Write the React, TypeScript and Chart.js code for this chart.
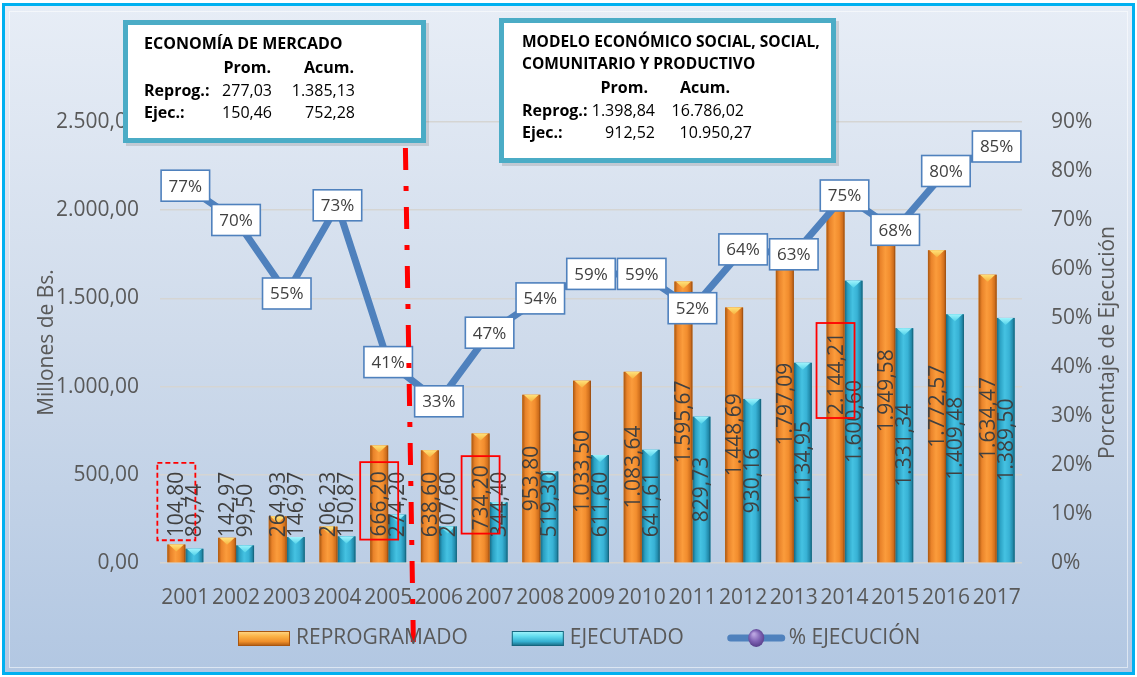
import { useEffect, useRef } from 'react';
import { Chart, registerables } from 'chart.js';

Chart.register(...registerables);

const years = ['2001', '2002', '2003', '2004', '2005', '2006', '2007', '2008', '2009', '2010', '2011', '2012', '2013', '2014', '2015', '2016', '2017'];
const reprogramado = [104.8, 142.97, 264.93, 206.23, 666.2, 638.6, 734.2, 953.8, 1033.5, 1083.64, 1595.67, 1448.69, 1797.09, 2144.21, 1949.58, 1772.57, 1634.47];
const ejecutado = [80.74, 99.5, 146.97, 150.87, 274.2, 207.6, 344.4, 519.3, 611.6, 641.61, 829.73, 930.16, 1134.95, 1600.6, 1331.34, 1409.48, 1389.5];
const ejecucion = [77, 70, 55, 73, 41, 33, 47, 54, 59, 59, 52, 64, 63, 75, 68, 80, 85];

const leftMax = 2500;
const leftStep = 500;
const rightMax = 90;
const rightStep = 10;

const solidHighlights = [4, 6, 13];
const dashedHighlights = [0];

const box1Title = ['ECONOMÍA DE MERCADO'];
const box1Head = ['Prom.', 'Acum.'];
const box1Rows = [
  ['Reprog.:', '277,03', '1.385,13'],
  ['Ejec.:', '150,46', '752,28'],
];
const box2Title = ['MODELO ECONÓMICO SOCIAL, SOCIAL,', 'COMUNITARIO Y PRODUCTIVO'];
const box2Head = ['Prom.', 'Acum.'];
const box2Rows = [
  ['Reprog.:', '1.398,84', '16.786,02'],
  ['Ejec.:', '912,52', '10.950,27'],
];

const legendLabels = ['REPROGRAMADO', 'EJECUTADO', '% EJECUCIÓN'];

const FONT = '"Open Sans", "DejaVu Sans", sans-serif';
const GRAY = '#595959';
const DARK = '#404040';

function fmt(v: number): string {
  const fixed = Number(v).toFixed(2);
  const [i, d] = fixed.split('.');
  return i.replace(/\B(?=(\d{3})+(?!\d))/g, '.') + ',' + d;
}

const orangeStops: [number, string][] = [
  [0, '#a9560f'], [0.18, '#e9832a'], [0.45, '#fb9c3c'], [0.7, '#f28d2e'], [0.9, '#cf6e1c'], [1, '#8f4710'],
];
const tealStops: [number, string][] = [
  [0, '#15657e'], [0.18, '#2aa0c2'], [0.45, '#45c2e2'], [0.7, '#38b2d5'], [0.9, '#2189a9'], [1, '#135a70'],
];

const labelRects: Record<number, { x: number; y: number; w: number; h: number }> = {};

const decorPlugin = {
  id: 'decor',
  afterDatasetDraw(chart: any, args: any) {
    const ds = chart.data.datasets[args.index];
    if (ds.type !== 'bar') return;
    const ctx: CanvasRenderingContext2D = chart.ctx;
    const stops = args.index === 0 ? orangeStops : tealStops;
    const capColor = args.index === 0 ? ['#ffe27a', '#f7b23f'] : ['#9ff3fc', '#52d3ea'];
    ctx.save();
    args.meta.data.forEach((bar: any) => {
      const { x, y, base, width } = bar.getProps(['x', 'y', 'base', 'width'], true);
      const l = x - width / 2;
      const r = x + width / 2;
      const g = ctx.createLinearGradient(l, 0, r, 0);
      stops.forEach(([o, c]) => g.addColorStop(o, c));
      ctx.fillStyle = g;
      ctx.fillRect(l, y, width, base - y);
      const capH = Math.min(7, base - y);
      const cg = ctx.createLinearGradient(0, y, 0, y + capH);
      cg.addColorStop(0, capColor[0]);
      cg.addColorStop(1, capColor[1]);
      ctx.fillStyle = cg;
      ctx.beginPath();
      ctx.moveTo(l + 1.5, y);
      ctx.lineTo(r - 1.5, y);
      ctx.lineTo(x, y + capH);
      ctx.closePath();
      ctx.fill();
    });
    ctx.restore();
  },
  beforeDatasetDraw(chart: any, args: any) {
    if (args.index !== 2) return;
    const ctx: CanvasRenderingContext2D = chart.ctx;
    ctx.save();
    ctx.font = `21px ${FONT}`;
    ctx.fillStyle = DARK;
    ctx.textAlign = 'center';
    ctx.textBaseline = 'middle';
    [0, 1].forEach((di) => {
      const meta = chart.getDatasetMeta(di);
      const values = chart.data.datasets[di].data as number[];
      meta.data.forEach((bar: any, i: number) => {
        const { x, y, base } = bar.getProps(['x', 'y', 'base'], true);
        const text = fmt(values[i]);
        const w = ctx.measureText(text).width;
        const cy = Math.min((y + base) / 2, base - 25 - w / 2);
        ctx.save();
        ctx.translate(x, cy);
        ctx.rotate(-Math.PI / 2);
        ctx.fillText(text, 0, 1);
        ctx.restore();
        if (di === 0) labelRects[i] = { x: x - 19, y: cy - w / 2 - 9, w: 38, h: w + 12 };
      });
    });
    ctx.restore();
  },
  afterDatasetsDraw(chart: any) {
    const ctx: CanvasRenderingContext2D = chart.ctx;
    const meta = chart.getDatasetMeta(2);
    const vals = chart.data.datasets[2].data as number[];
    ctx.save();
    ctx.font = `17px ${FONT}`;
    ctx.textAlign = 'center';
    ctx.textBaseline = 'middle';
    meta.data.forEach((pt: any, i: number) => {
      const text = vals[i] + '%';
      const w = ctx.measureText(text).width + 15;
      const h = 31;
      ctx.fillStyle = '#ffffff';
      ctx.fillRect(pt.x - w / 2, pt.y - h / 2, w, h);
      ctx.strokeStyle = '#4f81bd';
      ctx.lineWidth = 1.6;
      ctx.strokeRect(pt.x - w / 2, pt.y - h / 2, w, h);
      ctx.fillStyle = DARK;
      ctx.fillText(text, pt.x, pt.y + 1);
    });
    ctx.restore();

    ctx.save();
    ctx.strokeStyle = '#ff0000';
    ctx.lineWidth = 1.8;
    solidHighlights.forEach((i) => {
      const r = labelRects[i];
      if (!r) return;
      ctx.setLineDash([]);
      ctx.strokeRect(r.x, r.y, r.w, r.h);
    });
    dashedHighlights.forEach((i) => {
      const r = labelRects[i];
      if (!r) return;
      ctx.setLineDash([5, 3]);
      ctx.strokeRect(r.x, r.y, r.w, r.h);
    });
    ctx.restore();

    const xs = chart.scales.x;
    const p4 = xs.getPixelForValue(4);
    const p5 = xs.getPixelForValue(5);
    ctx.save();
    ctx.strokeStyle = '#ff0000';
    ctx.lineWidth = 5;
    ctx.setLineDash([22, 16, 5, 16]);
    ctx.beginPath();
    ctx.moveTo(p4 + (p5 - p4) * 0.34, 148);
    ctx.lineTo(p4 + (p5 - p4) * 0.5, 652);
    ctx.stroke();
    ctx.restore();
  },
  afterDraw(chart: any) {
    const ctx: CanvasRenderingContext2D = chart.ctx;
    const area = chart.chartArea;

    ctx.save();
    ctx.font = `21px ${FONT}`;
    ctx.fillStyle = GRAY;
    ctx.textAlign = 'center';
    ctx.textBaseline = 'middle';
    ctx.translate(1108, (area.top + area.bottom) / 2);
    ctx.rotate(-Math.PI / 2);
    ctx.fillText('Porcentaje de Ejecución', 0, 0);
    ctx.restore();

    ctx.save();
    const ly = 638;
    ctx.font = `21px ${FONT}`;
    ctx.textBaseline = 'middle';
    ctx.textAlign = 'left';
    let lx = 238;
    legendLabels.forEach((label, i) => {
      if (i < 2) {
        const g = ctx.createLinearGradient(0, ly - 7, 0, ly + 8);
        if (i === 0) {
          g.addColorStop(0, '#ffd98a');
          g.addColorStop(0.35, '#fbb347');
          g.addColorStop(0.7, '#ef8f2a');
          g.addColorStop(1, '#a9560f');
        } else {
          g.addColorStop(0, '#a6f6fd');
          g.addColorStop(0.35, '#62dcef');
          g.addColorStop(0.7, '#35b0d1');
          g.addColorStop(1, '#15657e');
        }
        ctx.fillStyle = g;
        ctx.fillRect(lx, ly - 7, 52, 15);
        ctx.strokeStyle = i === 0 ? '#a9560f' : '#15657e';
        ctx.lineWidth = 1;
        ctx.strokeRect(lx + 0.5, ly - 6.5, 51, 14);
      } else {
        ctx.strokeStyle = '#4f81bd';
        ctx.lineWidth = 7;
        ctx.lineCap = 'round';
        ctx.beginPath();
        ctx.moveTo(lx + 3, ly);
        ctx.lineTo(lx + 54, ly);
        ctx.stroke();
        const pg = ctx.createRadialGradient(lx + 26, ly - 4, 1, lx + 28.5, ly, 10);
        pg.addColorStop(0, '#b9a3e0');
        pg.addColorStop(0.5, '#7f62b4');
        pg.addColorStop(1, '#4e3680');
        ctx.fillStyle = pg;
        ctx.beginPath();
        ctx.ellipse(lx + 28.5, ly, 8, 9, 0, 0, Math.PI * 2);
        ctx.fill();
      }
      lx += i < 2 ? 58 : 61;
      ctx.fillStyle = GRAY;
      ctx.fillText(label, lx, ly);
      lx += ctx.measureText(label).width + 44;
    });
    ctx.restore();

    const drawBox = (L: number, T: number, W: number, H: number) => {
      ctx.save();
      ctx.fillStyle = 'rgba(0,0,0,0.12)';
      ctx.fillRect(L + 3, T + 3, W, H);
      ctx.fillStyle = '#ffffff';
      ctx.fillRect(L, T, W, H);
      ctx.strokeStyle = '#4bacc6';
      ctx.lineWidth = 5;
      ctx.strokeRect(L + 2.5, T + 2.5, W - 5, H - 5);
      ctx.restore();
    };
    const txt = (s: string, x: number, y: number, bold: boolean, align: CanvasTextAlign, size = 16) => {
      ctx.font = `${bold ? 'bold ' : ''}${size}px ${FONT}`;
      ctx.textAlign = align;
      ctx.fillText(s, x, y);
    };

    drawBox(123, 20, 303, 123);
    ctx.save();
    ctx.fillStyle = '#000000';
    ctx.textBaseline = 'alphabetic';
    txt(box1Title[0], 144, 49, true, 'left');
    txt(box1Head[0], 271, 73, true, 'right');
    txt(box1Head[1], 354, 73, true, 'right');
    box1Rows.forEach((row, r) => {
      const by = 96 + r * 22;
      txt(row[0], 144, by, true, 'left');
      txt(row[1], 272, by, false, 'right');
      txt(row[2], 355, by, false, 'right');
    });
    ctx.restore();

    drawBox(499, 18, 337, 145);
    ctx.save();
    ctx.fillStyle = '#000000';
    ctx.textBaseline = 'alphabetic';
    txt(box2Title[0], 522, 47, true, 'left', 15.5);
    txt(box2Title[1], 522, 69, true, 'left', 15.5);
    txt(box2Head[0], 648, 93, true, 'right');
    txt(box2Head[1], 730, 93, true, 'right');
    txt(box2Rows[0][0], 522, 116, true, 'left');
    txt(box2Rows[0][1], 655, 116, false, 'right');
    txt(box2Rows[0][2], 744, 116, false, 'right');
    txt(box2Rows[1][0], 522, 138, true, 'left');
    txt(box2Rows[1][1], 655, 138, false, 'right');
    txt(box2Rows[1][2], 752, 138, false, 'right');
    ctx.restore();
  },
};

export default function App() {
  const canvasRef = useRef<HTMLCanvasElement | null>(null);

  useEffect(() => {
    if (!canvasRef.current) return;
    Chart.defaults.font.family = FONT;
    const chart = new Chart(canvasRef.current, {
      type: 'bar',
      data: {
        labels: years,
        datasets: [
          { type: 'bar', label: legendLabels[0], data: reprogramado, yAxisID: 'y', order: 2, backgroundColor: '#f39530', borderWidth: 0 },
          { type: 'bar', label: legendLabels[1], data: ejecutado, yAxisID: 'y', order: 3, backgroundColor: '#35b0d3', borderWidth: 0 },
          {
            type: 'line', label: legendLabels[2], data: ejecucion, yAxisID: 'y1', order: 1,
            borderColor: '#4f81bd', borderWidth: 7, pointRadius: 0, tension: 0,
            borderJoinStyle: 'round', borderCapStyle: 'round',
          } as any,
        ],
      },
      options: {
        responsive: false,
        animation: false,
        datasets: { bar: { categoryPercentage: 0.71, barPercentage: 1.0 } },
        layout: { padding: { top: 122, left: 0, right: 0, bottom: 0 } },
        plugins: { legend: { display: false }, tooltip: { enabled: false } },
        scales: {
          x: {
            grid: { display: false },
            border: { display: false },
            ticks: { color: GRAY, font: { size: 21 }, padding: 14, autoSkip: false, maxRotation: 0, minRotation: 0 },
            afterFit: (s: any) => { s.height = 114; },
          },
          y: {
            min: 0,
            max: leftMax,
            ticks: { stepSize: leftStep, color: GRAY, font: { size: 21 }, padding: 21, callback: (v: any) => fmt(Number(v)) },
            grid: { color: '#d5d5d3', lineWidth: 1.5, drawTicks: false },
            border: { display: false },
            title: { display: true, text: 'Millones de Bs.', color: GRAY, font: { size: 21 }, padding: { top: 34, bottom: 0 } },
            afterFit: (s: any) => { s.width = 160; },
          },
          y1: {
            position: 'right',
            min: 0,
            max: rightMax,
            ticks: { stepSize: rightStep, color: GRAY, font: { size: 21 }, padding: 21, callback: (v: any) => v + '%' },
            grid: { display: false },
            border: { display: false },
            afterFit: (s: any) => { s.width = 115; },
          },
        },
      } as any,
      plugins: [decorPlugin as any],
    });
    return () => chart.destroy();
  }, []);

  return (
    <div style={{ position: 'fixed', left: 0, top: 0, width: 1137, height: 677, background: '#ffffff', overflow: 'hidden' }}>
      <div
        style={{
          position: 'absolute', left: 2, top: 3, width: 1133, height: 672, boxSizing: 'border-box',
          border: '3px solid #00b0f0',
          background: 'linear-gradient(to bottom, #e7edf6 0%, #cfdbeb 50%, #b2c7e2 100%)',
        }}
      >
        <div style={{ position: 'absolute', left: 4, top: 5, right: 4, bottom: 4, border: '1px solid rgba(255,255,255,0.55)' }} />
      </div>
      <canvas ref={canvasRef} width={1137} height={677} style={{ position: 'absolute', left: 0, top: 0, width: 1137, height: 677 }} />
    </div>
  );
}
